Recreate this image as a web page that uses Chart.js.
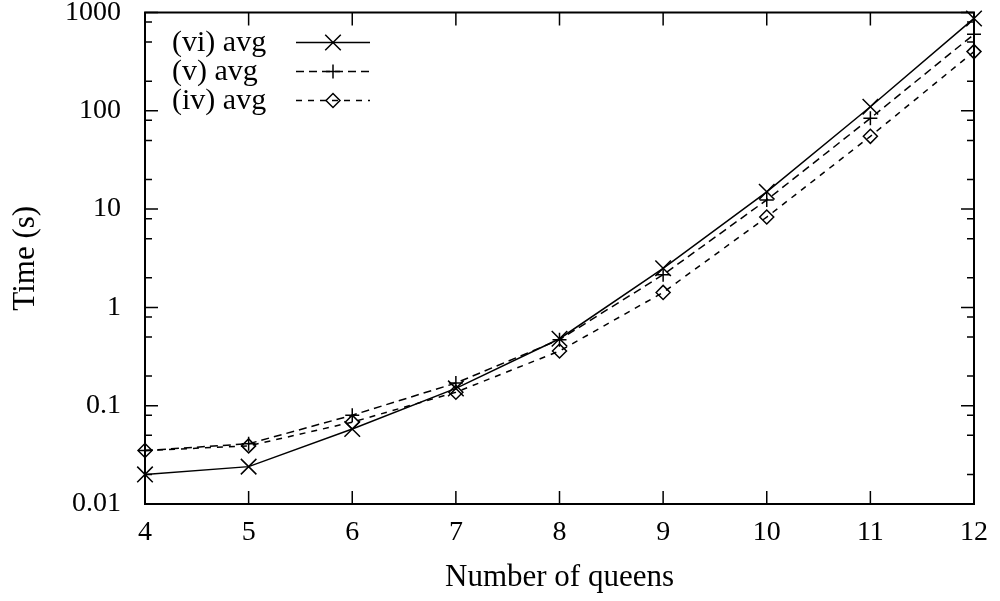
<!DOCTYPE html>
<html>
<head>
<meta charset="utf-8">
<script src="https://cdn.jsdelivr.net/npm/chart.js@4.4.0/dist/chart.umd.min.js"></script>
<style>
  body { margin: 0; background: #fff; }
  #wrap { width: 1000px; height: 601px; }
</style>
</head>
<body>
<div id="wrap"><canvas id="canvas"></canvas></div>
<script>
// data
const queens = [4, 5, 6, 7, 8, 9, 10, 11, 12];
const avg_vi = [0.020, 0.024, 0.058, 0.15, 0.48, 2.5, 15, 110, 870];
const avg_v = [0.035, 0.041, 0.080, 0.17, 0.47, 2.15, 12.4, 84, 600];
const avg_iv = [0.035, 0.039, 0.068, 0.137, 0.36, 1.42, 8.3, 55, 400];
const seriesLabels = ['(vi) avg', '(v) avg', '(iv) avg'];

const yTicks = [0.01, 0.1, 1, 10, 100, 1000];
const yTickLabels = ['0.01', '0.1', '1', '10', '100', '1000'];
const yMinorTicks = [0.02, 0.05, 0.08, 0.2, 0.5, 0.8, 2, 5, 8, 20, 50, 80, 200, 500, 800];
const xTicks = [4, 5, 6, 7, 8, 9, 10, 11, 12];

const FONT = "'Liberation Serif', 'DejaVu Serif', serif";

function toPoints(ys) {
    return queens.map((q, i) => ({ x: q, y: ys[i] }));
}

// gnuplot風の枠と内向きの目盛り
const frameTicks = {
    id: 'frameTicks',
    beforeDatasetsDraw(chart) {
        const ctx = chart.ctx;
        const a = chart.chartArea;
        const xs = chart.scales.x, ys = chart.scales.y;
        ctx.save();
        ctx.strokeStyle = '#000';
        ctx.lineWidth = 1.5;
        ctx.beginPath();
        xTicks.forEach(v => {
            const px = xs.getPixelForValue(v);
            ctx.moveTo(px, a.bottom); ctx.lineTo(px, a.bottom - 13);
            ctx.moveTo(px, a.top); ctx.lineTo(px, a.top + 13);
        });
        yTicks.forEach(v => {
            const py = ys.getPixelForValue(v);
            ctx.moveTo(a.left, py); ctx.lineTo(a.left + 13, py);
            ctx.moveTo(a.right, py); ctx.lineTo(a.right - 13, py);
        });
        yMinorTicks.forEach(v => {
            const py = ys.getPixelForValue(v);
            ctx.moveTo(a.left, py); ctx.lineTo(a.left + 7, py);
            ctx.moveTo(a.right, py); ctx.lineTo(a.right - 7, py);
        });
        ctx.stroke();
        ctx.lineWidth = 2;
        ctx.strokeRect(a.left, a.top, a.right - a.left, a.bottom - a.top);
        ctx.restore();
    }
};

// 凡例（テキストの後ろに線とマーカー）
const keyLegend = {
    id: 'keyLegend',
    afterDatasetsDraw(chart) {
        const ctx = chart.ctx;
        const a = chart.chartArea;
        ctx.save();
        chart.data.datasets.forEach((ds, i) => {
            const y = a.top + 30 + i * 29;
            ctx.fillStyle = '#000';
            ctx.font = '30px ' + FONT;
            ctx.textAlign = 'left';
            ctx.textBaseline = 'middle';
            ctx.fillText(ds.label, a.left + 27, y + 1);
            ctx.strokeStyle = '#000';
            ctx.lineWidth = ds.borderWidth;
            ctx.setLineDash(ds.borderDash || []);
            ctx.beginPath();
            ctx.moveTo(a.left + 151, y);
            ctx.lineTo(a.left + 225, y);
            ctx.stroke();
            ctx.setLineDash([]);
            ctx.fillStyle = 'rgba(0,0,0,0)';
            Chart.helpers.drawPoint(ctx, {
                pointStyle: ds.pointStyle,
                radius: ds.pointRadius,
                rotation: 0,
                borderWidth: ds.pointBorderWidth
            }, a.left + 188, y);
        });
        ctx.restore();
    }
};

var chart = new Chart(document.getElementById('canvas'), {
    type: 'line',
    data: {
        datasets: [{
            label: seriesLabels[0],
            data: toPoints(avg_vi),
            borderColor: '#000',
            borderWidth: 1.5,
            pointStyle: 'crossRot',
            pointRadius: 11,
            pointBorderWidth: 1.5,
            pointBorderColor: '#000',
            pointBackgroundColor: 'rgba(0,0,0,0)',
            clip: false
        }, {
            label: seriesLabels[1],
            data: toPoints(avg_v),
            borderColor: '#000',
            borderWidth: 1.5,
            borderDash: [8, 5],
            pointStyle: 'cross',
            pointRadius: 7,
            pointBorderWidth: 1.5,
            pointBorderColor: '#000',
            pointBackgroundColor: 'rgba(0,0,0,0)',
            clip: false
        }, {
            label: seriesLabels[2],
            data: toPoints(avg_iv),
            borderColor: '#000',
            borderWidth: 1.5,
            borderDash: [6, 6],
            pointStyle: 'rectRot',
            pointRadius: 7,
            pointBorderWidth: 1.5,
            pointBorderColor: '#000',
            pointBackgroundColor: 'rgba(0,0,0,0)',
            clip: false
        }]
    },
    options: {
        responsive: true,
        maintainAspectRatio: false,
        animation: false,
        layout: { padding: { top: 11, right: 26, left: 0, bottom: 0 } },
        plugins: {
            legend: { display: false },
            tooltip: { enabled: false }
        },
        scales: {
            x: {
                type: 'linear',
                min: 4,
                max: 12,
                grid: { display: false, drawTicks: false },
                border: { display: false },
                afterBuildTicks: (s) => { s.ticks = xTicks.map(v => ({ value: v })); },
                afterFit: (s) => { s.height = 97; s.paddingLeft = 0; s.paddingRight = 0; },
                ticks: {
                    autoSkip: false,
                    maxRotation: 0,
                    padding: 12,
                    color: '#000',
                    font: { family: FONT, size: 28 }
                },
                title: {
                    display: true,
                    text: 'Number of queens',
                    color: '#000',
                    font: { family: FONT, size: 31 },
                    padding: { top: 0, bottom: 5 }
                }
            },
            y: {
                type: 'logarithmic',
                min: 0.01,
                max: 1000,
                grid: { display: false, drawTicks: false },
                border: { display: false },
                afterBuildTicks: (s) => { s.ticks = yTicks.map(v => ({ value: v, major: true })); },
                afterFit: (s) => { s.width = 145; s.paddingTop = 0; s.paddingBottom = 0; },
                ticks: {
                    autoSkip: false,
                    padding: 24,
                    color: '#000',
                    font: { family: FONT, size: 28 },
                    callback: (v) => {
                        const i = yTicks.indexOf(v);
                        return i >= 0 ? yTickLabels[i] : '';
                    }
                },
                title: {
                    display: true,
                    text: 'Time (s)',
                    color: '#000',
                    font: { family: FONT, size: 31 },
                    padding: { top: 7, bottom: 0 }
                }
            }
        }
    },
    plugins: [frameTicks, keyLegend]
});
</script>
</body>
</html>
